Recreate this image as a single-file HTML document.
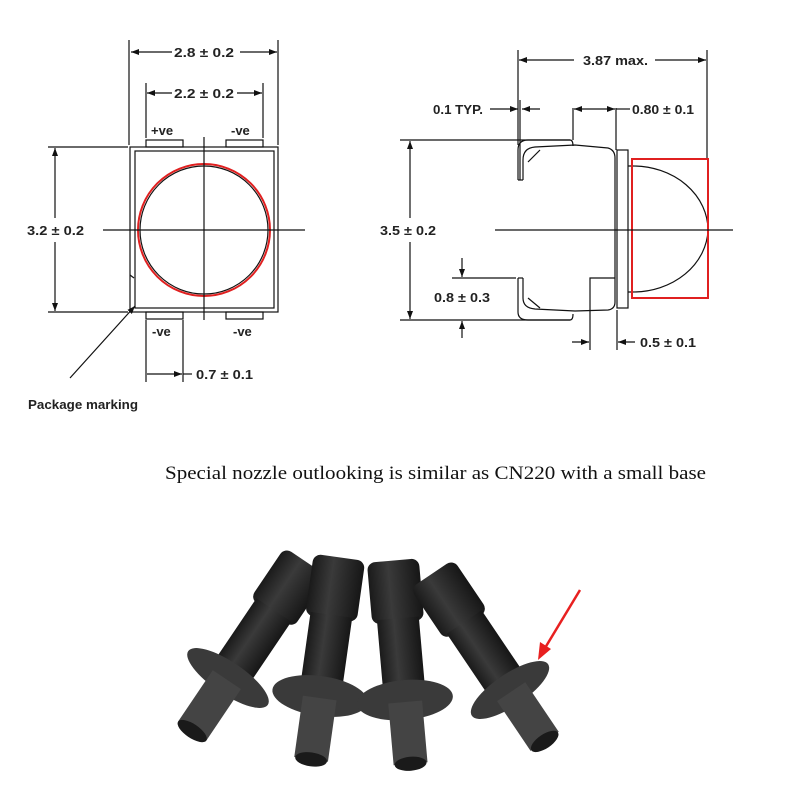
<!DOCTYPE html>
<html><head><meta charset="utf-8"><style>
html,body{margin:0;padding:0;background:#fff;width:800px;height:800px;overflow:hidden}
svg{display:block}
.t{font-family:"Liberation Sans",sans-serif;font-weight:bold;font-size:13px;fill:#222}
</style></head><body>
<svg width="800" height="800" viewBox="0 0 800 800" xmlns="http://www.w3.org/2000/svg">
<defs>
<marker id="a" markerWidth="8" markerHeight="6" refX="8" refY="3" orient="auto-start-reverse" markerUnits="userSpaceOnUse"><path d="M0,0 L8,3 L0,6 z" fill="#111"/></marker>
<linearGradient id="g" x1="0" x2="1"><stop offset="0" stop-color="#1a1a1a"/><stop offset="0.4" stop-color="#3a3a3a"/><stop offset="1" stop-color="#161616"/></linearGradient>
</defs>
<g stroke="#111" stroke-width="1.2" fill="none">
<rect x="130" y="147" width="148" height="165"/>
<rect x="135" y="151" width="139" height="157"/>
<rect x="146" y="140" width="37" height="7"/><rect x="226" y="140" width="37" height="7"/>
<rect x="146" y="312" width="37" height="7"/><rect x="226" y="312" width="37" height="7"/>
<circle cx="204" cy="230" r="64"/>
<circle cx="204" cy="230" r="66" stroke="#e02020" stroke-width="2"/>
<line x1="204" y1="137" x2="204" y2="320"/><line x1="103" y1="230" x2="305" y2="230"/>
<line x1="129" y1="40" x2="129" y2="145"/><line x1="278" y1="40" x2="278" y2="145"/>
<line x1="131" y1="52" x2="172" y2="52" marker-start="url(#a)"/><line x1="240" y1="52" x2="277" y2="52" marker-end="url(#a)"/>
<line x1="146" y1="83" x2="146" y2="138"/><line x1="263" y1="83" x2="263" y2="138"/>
<line x1="147" y1="93" x2="172" y2="93" marker-start="url(#a)"/><line x1="237" y1="93" x2="262" y2="93" marker-end="url(#a)"/>
<line x1="48" y1="147" x2="128" y2="147"/><line x1="48" y1="312" x2="128" y2="312"/>
<line x1="55" y1="148" x2="55" y2="218" marker-start="url(#a)"/><line x1="55" y1="242" x2="55" y2="311" marker-end="url(#a)"/>
<line x1="146" y1="320" x2="146" y2="382"/><line x1="183" y1="320" x2="183" y2="382"/>
<line x1="147" y1="374" x2="182" y2="374" marker-end="url(#a)"/><line x1="183" y1="374" x2="192" y2="374"/>
<line x1="70" y1="378" x2="135" y2="306" marker-end="url(#a)"/>
<line x1="130" y1="275" x2="134" y2="278"/>
<line x1="518" y1="50" x2="518" y2="145"/><line x1="707" y1="50" x2="707" y2="160"/>
<line x1="519" y1="60" x2="574" y2="60" marker-start="url(#a)"/><line x1="655" y1="60" x2="706" y2="60" marker-end="url(#a)"/>
<line x1="490" y1="109" x2="518" y2="109" marker-end="url(#a)"/><line x1="540" y1="109" x2="522" y2="109" marker-end="url(#a)"/>
<line x1="520" y1="100" x2="520" y2="180"/>
<line x1="573" y1="108" x2="573" y2="140"/><line x1="616" y1="108" x2="616" y2="150"/>
<line x1="574" y1="109" x2="615" y2="109" marker-start="url(#a)" marker-end="url(#a)"/><line x1="616" y1="109" x2="630" y2="109"/>
<line x1="400" y1="140" x2="570" y2="140"/><line x1="400" y1="320" x2="570" y2="320"/>
<line x1="410" y1="141" x2="410" y2="218" marker-start="url(#a)"/><line x1="410" y1="242" x2="410" y2="319" marker-end="url(#a)"/>
<path d="M518,180 L518,150 Q518,140 528,140 L570,140 Q573,140 573,146"/>
<path d="M518,278 L518,312 Q518,320 528,320 L570,320 Q573,320 573,314"/>
<path d="M523,180 L523,160 Q523,148 535,147 L575,145 L608,148 Q615,150 615,158 L615,302 Q615,309 608,310 L575,311 L535,309 Q523,308 523,298 L523,278"/>
<path d="M523,180 L518,180"/><path d="M523,278 L518,278"/>
<path d="M528,162 L540,150"/><path d="M528,298 L540,308"/>
<rect x="617" y="150" width="11" height="158"/>
<path d="M628,166 L633,166 A75,64 0 0 1 708,230 A75,64 0 0 1 633,292 L628,292"/>
<rect x="632" y="159" width="76" height="139" stroke="#e02020" stroke-width="2"/>
<line x1="495" y1="230" x2="733" y2="230"/>
<line x1="452" y1="278" x2="516" y2="278"/>
<line x1="462" y1="258" x2="462" y2="277" marker-end="url(#a)"/><line x1="462" y1="338" x2="462" y2="321" marker-end="url(#a)"/>
<path d="M590,350 L590,278 L615,278"/><line x1="617" y1="310" x2="617" y2="350"/>
<line x1="572" y1="342" x2="589" y2="342" marker-end="url(#a)"/><line x1="635" y1="342" x2="618" y2="342" marker-end="url(#a)"/>
</g>
<g class="t">
<text x="174" y="57" textLength="60" lengthAdjust="spacingAndGlyphs">2.8 ± 0.2</text>
<text x="174" y="98" textLength="60" lengthAdjust="spacingAndGlyphs">2.2 ± 0.2</text>
<text x="151" y="135">+ve</text><text x="231" y="135">-ve</text>
<text x="152" y="336">-ve</text><text x="233" y="336">-ve</text>
<text x="27" y="235" textLength="57" lengthAdjust="spacingAndGlyphs">3.2 ± 0.2</text>
<text x="196" y="379" textLength="57" lengthAdjust="spacingAndGlyphs">0.7 ± 0.1</text>
<text x="28" y="409" textLength="110" lengthAdjust="spacingAndGlyphs">Package marking</text>
<text x="583" y="65" textLength="65" lengthAdjust="spacingAndGlyphs">3.87 max.</text>
<text x="433" y="114" textLength="50" lengthAdjust="spacingAndGlyphs">0.1 TYP.</text>
<text x="632" y="114" textLength="62" lengthAdjust="spacingAndGlyphs">0.80 ± 0.1</text>
<text x="380" y="235" textLength="56" lengthAdjust="spacingAndGlyphs">3.5 ± 0.2</text>
<text x="434" y="302" textLength="56" lengthAdjust="spacingAndGlyphs">0.8 ± 0.3</text>
<text x="640" y="347" textLength="56" lengthAdjust="spacingAndGlyphs">0.5 ± 0.1</text>
</g>
<text x="165" y="479" font-family="'Liberation Serif',serif" font-size="19" fill="#111" textLength="541" lengthAdjust="spacingAndGlyphs">Special nozzle outlooking is similar as CN220 with a small base</text>
<g fill="url(#g)">
<g transform="translate(228,678) rotate(34)">
<rect x="-26" y="-140" width="52" height="62" rx="8"/><rect x="-21" y="-82" width="42" height="70"/>
<ellipse cx="0" cy="0" rx="48" ry="16" fill="#3a3a3a"/><rect x="-17" y="2" width="34" height="62" fill="#444"/>
<ellipse cx="0" cy="64" rx="17" ry="7" fill="#1a1a1a"/></g>
<g transform="translate(320,696) rotate(8)">
<rect x="-26" y="-140" width="52" height="62" rx="8"/><rect x="-21" y="-82" width="42" height="70"/>
<ellipse cx="0" cy="0" rx="48" ry="20" fill="#3a3a3a"/><rect x="-17" y="2" width="34" height="62" fill="#444"/>
<ellipse cx="0" cy="64" rx="16" ry="7" fill="#1a1a1a"/></g>
<g transform="translate(405,700) rotate(-5)">
<rect x="-26" y="-140" width="52" height="62" rx="8"/><rect x="-21" y="-82" width="42" height="70"/>
<ellipse cx="0" cy="0" rx="48" ry="20" fill="#3a3a3a"/><rect x="-17" y="2" width="34" height="62" fill="#444"/>
<ellipse cx="0" cy="64" rx="16" ry="7" fill="#1a1a1a"/></g>
<g transform="translate(510,690) rotate(-34)">
<rect x="-26" y="-140" width="52" height="62" rx="8"/><rect x="-21" y="-82" width="42" height="70"/>
<ellipse cx="0" cy="0" rx="46" ry="16" fill="#3a3a3a"/><rect x="-17" y="2" width="34" height="60" fill="#444"/>
<ellipse cx="0" cy="62" rx="16" ry="7" fill="#1a1a1a"/></g>
</g>
<line x1="580" y1="590" x2="545" y2="648" stroke="#e82020" stroke-width="2.5"/>
<path d="M538,660 L540,642 L551,649 z" fill="#e82020"/>
</svg>
</body></html>
